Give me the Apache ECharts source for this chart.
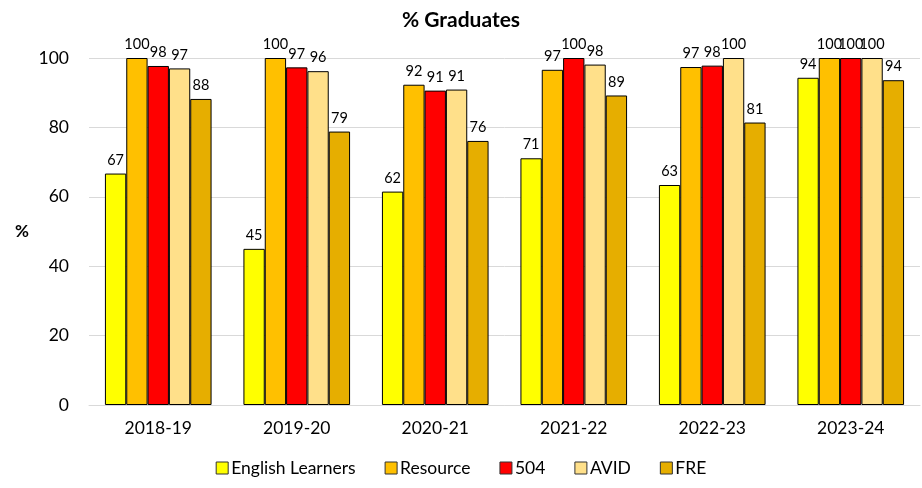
<!DOCTYPE html>
<html><head><meta charset="utf-8">
<script src="https://cdn.jsdelivr.net/npm/echarts@6/dist/echarts.min.js"></script>
<style>html,body{margin:0;padding:0;background:#fff}#c{width:922px;height:488px}</style>
</head><body><div id="c"></div>
<script>
const categories = ['2018-19','2019-20','2020-21','2021-22','2022-23','2023-24'];
const seriesNames = ['English Learners','Resource','504','AVID','FRE'];
const englishLearners = [66.7, 45.0, 61.5, 71.1, 63.4, 94.3];
const resource = [100, 100, 92.3, 96.6, 97.4, 100];
const s504 = [97.7, 97.3, 90.6, 100, 97.8, 100];
const avid = [97.0, 96.2, 90.9, 98.1, 100, 100];
const fre = [88.2, 78.8, 76.1, 89.2, 81.4, 93.6];
const yTicks = [0, 20, 40, 60, 80, 100];

const colors = ['#FFFF00','#FFC000','#FF0000','#FFE08A','#E6AE00'];
const values = [englishLearners, resource, s504, avid, fre];
const font = 'Lato, "Noto Sans", sans-serif';

const chart = echarts.init(document.getElementById('c'));
chart.setOption({
  animation: false,
  textStyle: {fontFamily: font},
  title: {text: '% Graduates', left: 'center', top: 5,
    textStyle: {fontFamily: font, fontSize: 21, fontWeight: 'bold', color: '#000'}},
  legend: {bottom: 6, left: 'center', itemWidth: 12, itemHeight: 12, itemGap: 29,
    textStyle: {fontFamily: font, fontSize: 17.5, color: '#000', padding: [0,0,0,-2]},
    data: seriesNames.map((n, i) => ({name: n, icon: 'rect', itemStyle: {color: colors[i], borderColor: '#333', borderWidth: 1}}))},
  grid: {left: 89, right: 2, top: 58, bottom: 83, containLabel: false},
  xAxis: {type: 'category', data: categories,
    axisLine: {lineStyle: {color: '#d9d9d9'}}, axisTick: {show: false},
    axisLabel: {fontFamily: font, fontSize: 17.5, color: '#000', margin: 14}},
  yAxis: {type: 'value', min: yTicks[0], max: yTicks[yTicks.length-1], interval: 20,
    name: '%', nameLocation: 'middle', nameGap: 60, nameRotate: 0,
    nameTextStyle: {fontFamily: font, fontSize: 17, fontWeight: 'bold', color: '#000'},
    axisLabel: {fontFamily: font, fontSize: 17.5, color: '#000', margin: 20},
    axisLine: {show: false}, axisTick: {show: false},
    splitLine: {lineStyle: {color: '#d9d9d9', width: 1}}},
  series: seriesNames.map((n, i) => ({
    name: n, type: 'bar', data: values[i],
    barGap: '0%', barCategoryGap: '23%',
    itemStyle: {color: colors[i], borderColor: '#000', borderWidth: 1},
    label: {show: true, position: 'top', distance: 6, fontFamily: font, fontSize: 14.5, color: '#000',
      formatter: p => Math.round(p.value)}
  }))
});
</script></body></html>
